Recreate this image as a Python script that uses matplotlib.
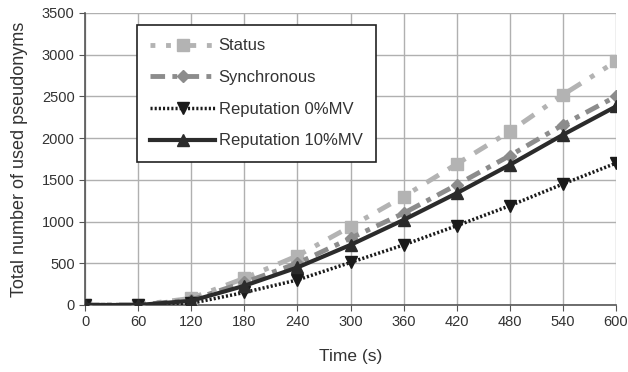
import matplotlib
matplotlib.use("Agg")
import matplotlib.pyplot as plt

time_s = [0, 60, 120, 180, 240, 300, 360, 420, 480, 540, 600]
status = [0, 0, 80, 320, 590, 940, 1300, 1690, 2080, 2520, 2920]
synchronous = [0, 0, 60, 270, 500, 800, 1100, 1440, 1790, 2160, 2500]
rep0 = [0, 0, 20, 150, 300, 510, 720, 950, 1190, 1450, 1700]
rep10 = [0, 0, 50, 230, 450, 720, 1020, 1340, 1680, 2040, 2380]

plt.rcParams['font.family'] = ['Liberation Sans', 'DejaVu Sans']
fig = plt.figure(figsize=(6.28, 3.72), dpi=100)
ax = fig.add_axes([85/628, 1-305/372, 531/628, 292/372])

ax.plot(time_s, status, color='#b3b3b3', lw=3.5, ls=(0, (1, 2.2, 1, 2.2, 3, 2.2)), marker='s', ms=8,
        label='Status', zorder=3)
ax.plot(time_s, synchronous, color='#8c8c8c', lw=3.5, ls=(0, (3, 1.5, 1, 1.5)), marker='D', ms=6.5,
        label='Synchronous', zorder=4)
ax.plot(time_s, rep0, color='#1a1a1a', lw=2.5, ls=(0, (0.6, 0.6)), marker='v', ms=8,
        label='Reputation 0%MV', zorder=5)
ax.plot(time_s, rep10, color='#2b2b2b', lw=3, ls='-', marker='^', ms=8,
        label='Reputation 10%MV', zorder=6)

ax.set_xlim(0, 600)
ax.set_ylim(0, 3500)
ax.set_xticks(time_s)
ax.set_yticks(range(0, 3501, 500))
ax.grid(True, color='#b0b0b0', lw=1)
ax.set_axisbelow(True)
for s in ['top', 'right']:
    ax.spines[s].set_visible(False)
for s in ['left', 'bottom']:
    ax.spines[s].set_color('#555555')
    ax.spines[s].set_linewidth(1.2)
ax.tick_params(colors='#555555', labelcolor='#333333', labelsize=10.5, length=4)
ax.set_xlabel('Time (s)', fontsize=12.5, color='#333333', labelpad=14)
ax.set_ylabel('Total number of used pseudonyms', fontsize=13, color='#333333', labelpad=10)

leg = ax.legend(loc='upper left', bbox_to_anchor=(52/531, 1-12/292), fontsize=12,
                frameon=True, fancybox=False, handlelength=3.9, labelspacing=1.0,
                borderpad=0.8, handletextpad=0.2, borderaxespad=0)
leg.get_frame().set_edgecolor('#222222')
leg.get_frame().set_linewidth(1.2)
leg.get_frame().set_alpha(1)
for t in leg.get_texts():
    t.set_color('#333333')

fig.savefig('out.png', dpi=100)
